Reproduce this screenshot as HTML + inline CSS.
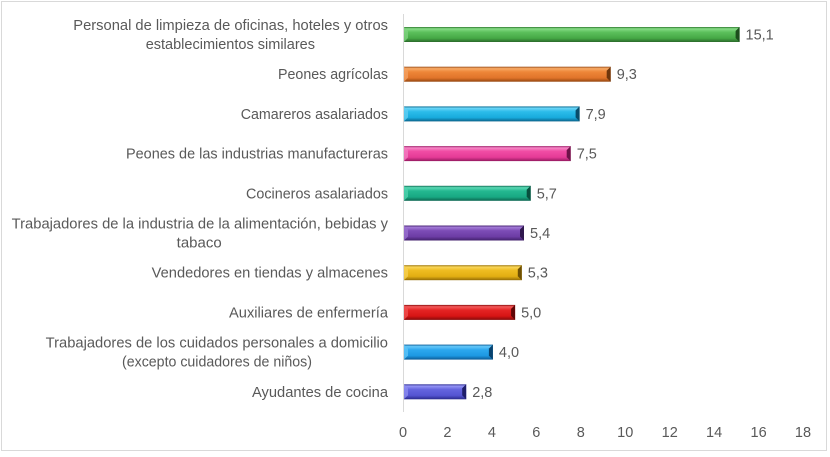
<!DOCTYPE html>
<html>
<head>
<meta charset="utf-8">
<style>
html,body{margin:0;padding:0;background:#fff;}
svg{display:block;}
text{font-family:"Liberation Sans",Arial,sans-serif;font-size:14.5px;fill:#595959;}
</style>
</head>
<body>
<svg width="830" height="457" viewBox="0 0 830 457" xmlns="http://www.w3.org/2000/svg">
<defs>
<linearGradient id="g1" x1="0" y1="0" x2="0" y2="1"><stop offset="0" stop-color="#2e7a2e"/><stop offset="0.12" stop-color="#86dc86"/><stop offset="0.35" stop-color="#5cc05c"/><stop offset="0.75" stop-color="#45a845"/><stop offset="1" stop-color="#2a6a2a"/></linearGradient>
<linearGradient id="g2" x1="0" y1="0" x2="0" y2="1"><stop offset="0" stop-color="#9a4c16"/><stop offset="0.12" stop-color="#f8aa66"/><stop offset="0.35" stop-color="#ee8638"/><stop offset="0.75" stop-color="#e0742a"/><stop offset="1" stop-color="#94460f"/></linearGradient>
<linearGradient id="g3" x1="0" y1="0" x2="0" y2="1"><stop offset="0" stop-color="#0a6a90"/><stop offset="0.12" stop-color="#6ad4f6"/><stop offset="0.35" stop-color="#2cbcea"/><stop offset="0.75" stop-color="#18aadc"/><stop offset="1" stop-color="#0a628a"/></linearGradient>
<linearGradient id="g4" x1="0" y1="0" x2="0" y2="1"><stop offset="0" stop-color="#9c1c66"/><stop offset="0.12" stop-color="#f686c6"/><stop offset="0.35" stop-color="#f04ca4"/><stop offset="0.75" stop-color="#e43a96"/><stop offset="1" stop-color="#961a60"/></linearGradient>
<linearGradient id="g5" x1="0" y1="0" x2="0" y2="1"><stop offset="0" stop-color="#0c6a52"/><stop offset="0.12" stop-color="#5ad8b4"/><stop offset="0.35" stop-color="#24b890"/><stop offset="0.75" stop-color="#18a882"/><stop offset="1" stop-color="#0c6650"/></linearGradient>
<linearGradient id="g6" x1="0" y1="0" x2="0" y2="1"><stop offset="0" stop-color="#44206e"/><stop offset="0.12" stop-color="#a27ad6"/><stop offset="0.35" stop-color="#7c4cb6"/><stop offset="0.75" stop-color="#6c3ca4"/><stop offset="1" stop-color="#40206a"/></linearGradient>
<linearGradient id="g7" x1="0" y1="0" x2="0" y2="1"><stop offset="0" stop-color="#9a7206"/><stop offset="0.12" stop-color="#f8d65a"/><stop offset="0.35" stop-color="#eebc20"/><stop offset="0.75" stop-color="#e2ae12"/><stop offset="1" stop-color="#946c06"/></linearGradient>
<linearGradient id="g8" x1="0" y1="0" x2="0" y2="1"><stop offset="0" stop-color="#880a0a"/><stop offset="0.12" stop-color="#f45a5a"/><stop offset="0.35" stop-color="#e42424"/><stop offset="0.75" stop-color="#d61414"/><stop offset="1" stop-color="#840a0a"/></linearGradient>
<linearGradient id="g9" x1="0" y1="0" x2="0" y2="1"><stop offset="0" stop-color="#0c5c96"/><stop offset="0.12" stop-color="#66c8fa"/><stop offset="0.35" stop-color="#2ca8ee"/><stop offset="0.75" stop-color="#1c98e2"/><stop offset="1" stop-color="#0c5a94"/></linearGradient>
<linearGradient id="g10" x1="0" y1="0" x2="0" y2="1"><stop offset="0" stop-color="#2c2c90"/><stop offset="0.12" stop-color="#9494f4"/><stop offset="0.35" stop-color="#6464de"/><stop offset="0.75" stop-color="#5454d2"/><stop offset="1" stop-color="#2a2a8c"/></linearGradient>
</defs>

<rect x="1.5" y="1.5" width="825" height="449" fill="#fff" stroke="#d9d9d9" stroke-width="1"/>

<!-- axis -->
<line x1="403.5" y1="14" x2="403.5" y2="412" stroke="#d9d9d9" stroke-width="1"/>

<!-- bars -->
<g transform="translate(404,27)">
<rect x="0" y="0" width="335.6" height="15" fill="url(#g1)"/>
<polygon points="0,0 4,4 4,11 0,15" fill="#7ed27e" opacity="0.8"/>
<polygon points="335.6,0 331.6,4 331.6,11 335.6,15" fill="#1c4e1c"/>
</g>
<g transform="translate(404,66.7)">
<rect x="0" y="0" width="206.7" height="15" fill="url(#g2)"/>
<polygon points="0,0 4,4 4,11 0,15" fill="#f4a060" opacity="0.8"/>
<polygon points="206.7,0 202.7,4 202.7,11 206.7,15" fill="#6e360c"/>
</g>
<g transform="translate(404,106.4)">
<rect x="0" y="0" width="175.6" height="15" fill="url(#g3)"/>
<polygon points="0,0 4,4 4,11 0,15" fill="#60cef2" opacity="0.8"/>
<polygon points="175.6,0 171.6,4 171.6,11 175.6,15" fill="#084c6a"/>
</g>
<g transform="translate(404,146.1)">
<rect x="0" y="0" width="166.7" height="15" fill="url(#g4)"/>
<polygon points="0,0 4,4 4,11 0,15" fill="#f47cc0" opacity="0.8"/>
<polygon points="166.7,0 162.7,4 162.7,11 166.7,15" fill="#6e1248"/>
</g>
<g transform="translate(404,185.8)">
<rect x="0" y="0" width="126.7" height="15" fill="url(#g5)"/>
<polygon points="0,0 4,4 4,11 0,15" fill="#50d2ae" opacity="0.8"/>
<polygon points="126.7,0 122.7,4 122.7,11 126.7,15" fill="#08503e"/>
</g>
<g transform="translate(404,225.5)">
<rect x="0" y="0" width="120" height="15" fill="url(#g6)"/>
<polygon points="0,0 4,4 4,11 0,15" fill="#9a70d0" opacity="0.8"/>
<polygon points="120,0 116,4 116,11 120,15" fill="#30184e"/>
</g>
<g transform="translate(404,265.2)">
<rect x="0" y="0" width="117.8" height="15" fill="url(#g7)"/>
<polygon points="0,0 4,4 4,11 0,15" fill="#f6d050" opacity="0.8"/>
<polygon points="117.8,0 113.8,4 113.8,11 117.8,15" fill="#6e5004"/>
</g>
<g transform="translate(404,304.9)">
<rect x="0" y="0" width="111.1" height="15" fill="url(#g8)"/>
<polygon points="0,0 4,4 4,11 0,15" fill="#f05050" opacity="0.8"/>
<polygon points="111.1,0 107.1,4 107.1,11 111.1,15" fill="#600606"/>
</g>
<g transform="translate(404,344.6)">
<rect x="0" y="0" width="88.9" height="15" fill="url(#g9)"/>
<polygon points="0,0 4,4 4,11 0,15" fill="#5ec4f8" opacity="0.8"/>
<polygon points="88.9,0 84.9,4 84.9,11 88.9,15" fill="#08426e"/>
</g>
<g transform="translate(404,384.3)">
<rect x="0" y="0" width="62.2" height="15" fill="url(#g10)"/>
<polygon points="0,0 4,4 4,11 0,15" fill="#8c8cf0" opacity="0.8"/>
<polygon points="62.2,0 58.2,4 58.2,11 62.2,15" fill="#1e1e6a"/>
</g>

<!-- value labels -->
<text x="745.5" y="39.5">15,1</text>
<text x="616.7" y="79.2">9,3</text>
<text x="585.6" y="118.9">7,9</text>
<text x="576.7" y="158.6">7,5</text>
<text x="536.7" y="198.3">5,7</text>
<text x="530" y="238">5,4</text>
<text x="527.8" y="277.7">5,3</text>
<text x="521.1" y="317.4">5,0</text>
<text x="498.9" y="357.1">4,0</text>
<text x="472.2" y="396.8">2,8</text>

<!-- category labels -->
<g>
<text x="73.3" y="30" textLength="314.7" lengthAdjust="spacingAndGlyphs">Personal de limpieza de oficinas, hoteles y otros</text>
<text x="145.7" y="49" textLength="169.3" lengthAdjust="spacingAndGlyphs">establecimientos similares</text>
<text x="278" y="79.2" textLength="110" lengthAdjust="spacingAndGlyphs">Peones agrícolas</text>
<text x="240.7" y="118.9" textLength="147.3" lengthAdjust="spacingAndGlyphs">Camareros asalariados</text>
<text x="126" y="158.6" textLength="262" lengthAdjust="spacingAndGlyphs">Peones de las industrias manufactureras</text>
<text x="246" y="198.3" textLength="142" lengthAdjust="spacingAndGlyphs">Cocineros asalariados</text>
<text x="11.7" y="228.5" textLength="376.3" lengthAdjust="spacingAndGlyphs">Trabajadores de la industria de la alimentación, bebidas y</text>
<text x="176.7" y="247.5" textLength="45" lengthAdjust="spacingAndGlyphs">tabaco</text>
<text x="151.7" y="277.7" textLength="236.3" lengthAdjust="spacingAndGlyphs">Vendedores en tiendas y almacenes</text>
<text x="229" y="317.4" textLength="159" lengthAdjust="spacingAndGlyphs">Auxiliares de enfermería</text>
<text x="45.7" y="347.6" textLength="342.3" lengthAdjust="spacingAndGlyphs">Trabajadores de los cuidados personales a domicilio</text>
<text x="122" y="366.6" textLength="190" lengthAdjust="spacingAndGlyphs">(excepto cuidadores de niños)</text>
<text x="252" y="396.8" textLength="136" lengthAdjust="spacingAndGlyphs">Ayudantes de cocina</text>
</g>

<!-- x tick labels -->
<g text-anchor="middle">
<text x="403" y="437">0</text>
<text x="447.4" y="437">2</text>
<text x="491.9" y="437">4</text>
<text x="536.3" y="437">6</text>
<text x="580.8" y="437">8</text>
<text x="625.2" y="437">10</text>
<text x="669.7" y="437">12</text>
<text x="714.1" y="437">14</text>
<text x="758.6" y="437">16</text>
<text x="803" y="437">18</text>
</g>
</svg>
</body>
</html>
